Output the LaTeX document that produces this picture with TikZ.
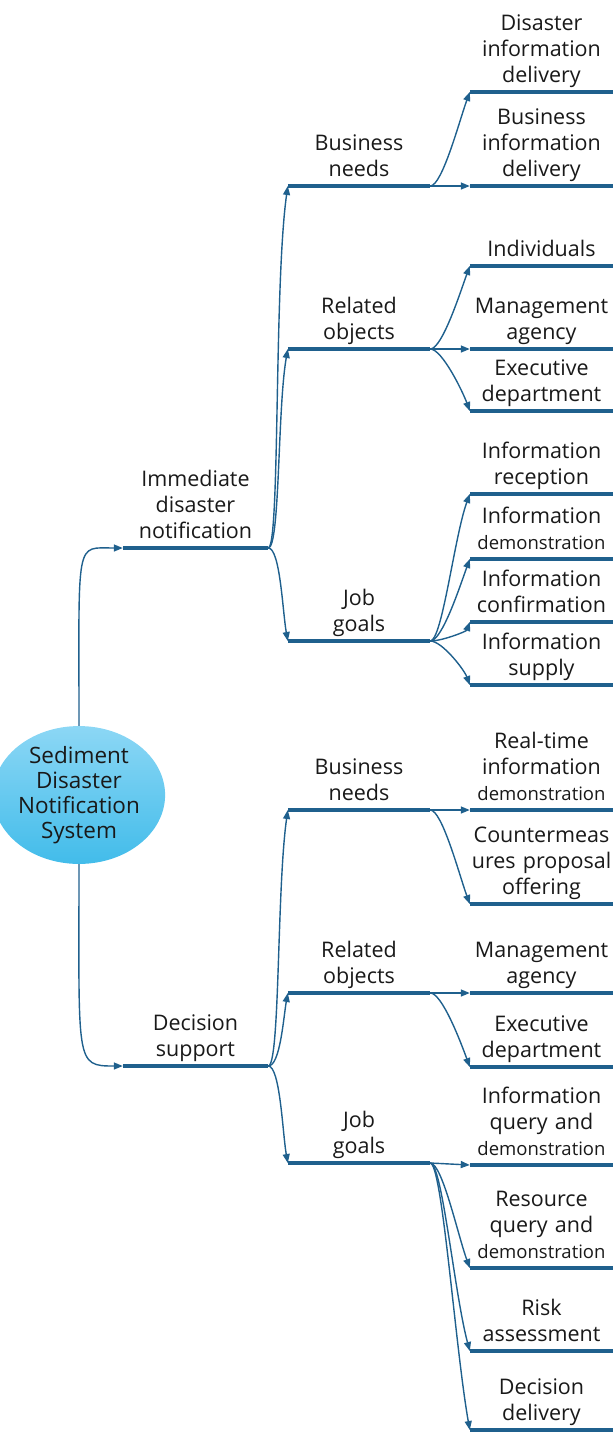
\documentclass[tikz,border=0pt]{standalone}
\usepackage{fontspec}
\setmainfont{Open Sans}
\usepackage{tikz}
\usetikzlibrary{arrows.meta,shapes.geometric}
\definecolor{barblue}{RGB}{31,96,141}
\definecolor{ballhi}{RGB}{140,215,245}
\definecolor{balllo}{RGB}{66,188,234}
\tikzstyle{topic}=[anchor=south,text width=143pt,align=center,inner xsep=0pt,inner ysep=1.5pt,text=black!90,font=\fontsize{21.5}{26}\selectfont,execute at end node=\strut]
\tikzstyle{bar}=[barblue,line width=3.8pt]
\tikzstyle{link}=[barblue,line width=1.4pt,-{Triangle[length=9pt,width=7pt]}]
\tikzstyle{ball}=[ellipse,minimum width=136pt,minimum height=112pt,inner sep=0pt,align=center,top color=ballhi,bottom color=balllo,text=black!90,font=\fontsize{22.5}{25}\selectfont]
\tikzset{rise/.style={out=0,in=-110,out distance=12pt,in distance=#1},
         fall/.style={out=0,in=110,out distance=12pt,in distance=#1}}
\newcommand{\smalltxt}[1]{{\fontsize{18.5}{26}\selectfont #1}}

\begin{document}
\begin{tikzpicture}[x=1pt,y=1pt]
\useasboundingbox (0,0) rectangle (614,-1432);

\node [ball] (root) at (79,-795) {Sediment\\Disaster\\Notification\\System};

% first level
\node [topic,text width=145pt] (imm) at (195.5,-548) {Immediate\\disaster\\notification};
\node [topic,text width=145pt] (dec) at (195.5,-1066) {Decision\\support};

% second level
\node [topic,text width=142pt] (bnA) at (359,-186) {Business\\needs};
\node [topic,text width=142pt] (roA) at (359,-349) {Related\\objects};
\node [topic,text width=142pt] (jgA) at (359,-641) {Job\\goals};
\node [topic,text width=142pt] (bnB) at (359,-810) {Business\\needs};
\node [topic,text width=142pt] (roB) at (359,-993) {Related\\objects};
\node [topic,text width=142pt] (jgB) at (359,-1163) {Job\\goals};

% third level
\node [topic] (a1) at (541.5,-92) {Disaster\\information\\delivery};
\node [topic] (a2) at (541.5,-186) {Business\\information\\delivery};
\node [topic] (b1) at (541.5,-266) {Individuals};
\node [topic] (b2) at (541.5,-349) {Management\\agency};
\node [topic] (b3) at (541.5,-411) {Executive\\department};
\node [topic] (c1) at (541.5,-494) {Information\\reception};
\node [topic] (c2) at (541.5,-559) {Information\\\smalltxt{demonstration}};
\node [topic] (c3) at (541.5,-622) {Information\\confirmation};
\node [topic] (c4) at (541.5,-685) {Information\\supply};
\node [topic] (d1) at (541.5,-810) {Real-time\\information\\\smalltxt{demonstration}};
\node [topic] (d2) at (541.5,-904) {Countermeas\\ures proposal\\offering};
\node [topic] (e1) at (541.5,-993) {Management\\agency};
\node [topic] (e2) at (541.5,-1067) {Executive\\department};
\node [topic] (f1) at (541.5,-1165) {Information\\query and\\\smalltxt{demonstration}};
\node [topic] (f2) at (541.5,-1268) {Resource\\query and\\\smalltxt{demonstration}};
\node [topic] (f3) at (541.5,-1351) {Risk\\assessment};
\node [topic] (f4) at (541.5,-1430) {Decision\\delivery};

% underlines
\foreach \n in {imm,dec,bnA,roA,jgA,bnB,roB,jgB,a1,a2,b1,b2,b3,c1,c2,c3,c4,d1,d2,e1,e2,f1,f2,f3,f4}
  \draw [bar] (\n.south west) -- (\n.south east);

% connectors
\draw [link] (root.north) .. controls +(0,190) and +(-48,0) .. (imm.south west);
\draw [link] (root.south) .. controls +(0,-200) and +(-48,0) .. (dec.south west);

\draw [link] (imm.south east) to[rise=100pt,in=-98] (bnA.south west);
\draw [link] (imm.south east) to[rise=60pt,in=-100] (roA.south west);
\draw [link] (imm.south east) to[fall=30pt,in=100] (jgA.south west);
\draw [link] (dec.south east) to[rise=80pt,in=-98] (bnB.south west);
\draw [link] (dec.south east) to[rise=25pt,in=-100] (roB.south west);
\draw [link] (dec.south east) to[fall=30pt,in=100] (jgB.south west);

\draw [link] (bnA.south east) to[rise=30pt] (a1.south west);
\draw [link] (bnA.south east) -- (a2.south west);
\draw [link] (roA.south east) to[rise=28pt] (b1.south west);
\draw [link] (roA.south east) -- (b2.south west);
\draw [link] (roA.south east) to[fall=20pt] (b3.south west);
\draw [link] (jgA.south east) to[rise=45pt] (c1.south west);
\draw [link] (jgA.south east) to[rise=28pt] (c2.south west);
\draw [link] (jgA.south east) to[rise=10pt] (c3.south west);
\draw [link] (jgA.south east) to[fall=16pt] (c4.south west);
\draw [link] (bnB.south east) -- (d1.south west);
\draw [link] (bnB.south east) to[fall=30pt] (d2.south west);
\draw [link] (roB.south east) -- (e1.south west);
\draw [link] (roB.south east) to[fall=25pt] (e2.south west);
\draw [link] (jgB.south east) -- (f1.south west);
\draw [link] (jgB.south east) to[fall=35pt] (f2.south west);
\draw [link] (jgB.south east) to[fall=60pt,in=105] (f3.south west);
\draw [link] (jgB.south east) to[fall=85pt,in=100] (f4.south west);
\end{tikzpicture}
\end{document}
